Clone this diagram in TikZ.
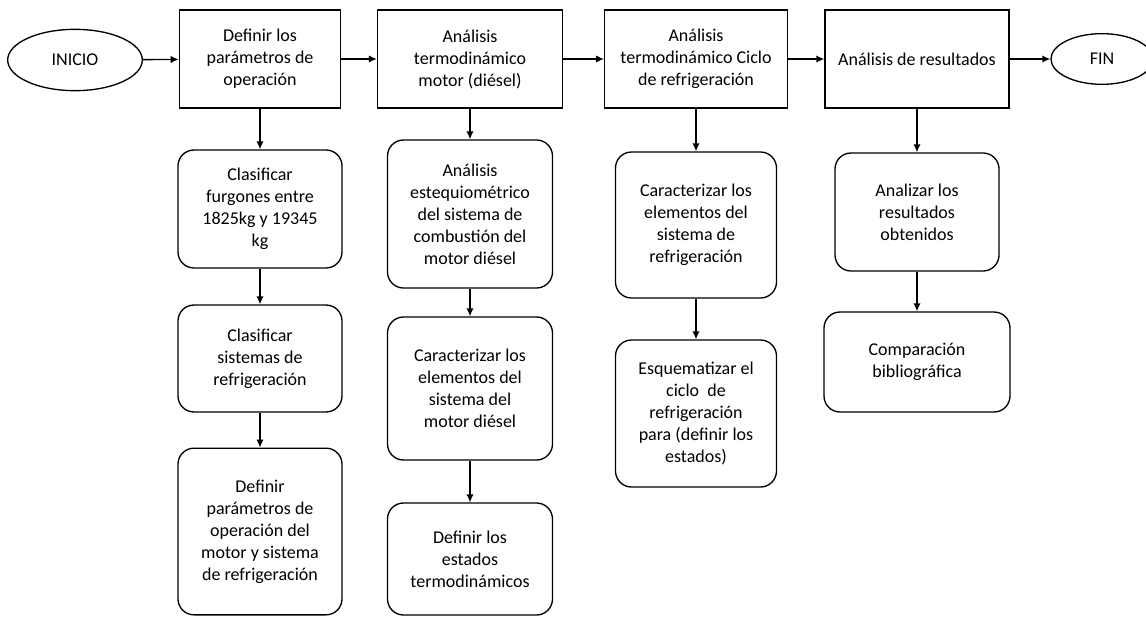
\documentclass[tikz,border=0pt]{standalone}
\usepackage{fontspec}
\setmainfont{Carlito}
\usetikzlibrary{arrows.meta,shapes.geometric}
\tikzset{
  base/.style={draw=black, line width=1pt, align=center, inner sep=2pt,
    font=\fontsize{13.5pt}{16.5pt}\selectfont},
  topbox/.style={base, rectangle, minimum height=73.5pt},
  subbox/.style={base, rectangle, rounded corners=12pt},
  term/.style={base, ellipse},
  conn/.style={line width=1pt, -{Latex[length=6pt,width=5.5pt]}}
}
\begin{document}
\begin{tikzpicture}[x=0.75pt,y=-0.75pt]
\useasboundingbox (0,0) rectangle (1146,618);
\fill[white] (0,0) rectangle (1146,618);
\begin{scope}
\clip (0,0) rectangle (1146,618);
% top row
\node[term, minimum width=101pt, minimum height=46pt] (ini) at (75,60) {INICIO};
\node[topbox, minimum width=121pt] (b1) at (260,59) {Definir los\\par\'ametros de\\operaci\'on};
\node[topbox, minimum width=138.75pt] (b2) at (470,59) {An\'alisis\\termodin\'amico\\motor (di\'esel)};
\node[topbox, minimum width=137pt] (b3) at (696,59) {An\'alisis\\termodin\'amico Ciclo\\de refrigeraci\'on};
\node[topbox, minimum width=138pt] (b4) at (917,59) {An\'alisis de resultados};
\node[term, minimum width=76.5pt, minimum height=38pt] (fin) at (1102,59) {FIN};
% column 1
\node[subbox, minimum width=123pt, minimum height=88.5pt] (a1) at (260,209) {Clasificar\\furgones entre\\1825kg y 19345\\kg};
\node[subbox, minimum width=123pt, minimum height=80.25pt] (a2) at (260,358.5) {Clasificar\\sistemas de\\refrigeraci\'on};
\node[subbox, minimum width=123pt, minimum height=125pt] (a3) at (260,531.5) {Definir\\par\'ametros de\\operaci\'on del\\motor y sistema\\de refrigeraci\'on};
% column 2
\node[subbox, minimum width=123.75pt, minimum height=111pt] (c1) at (470,214) {An\'alisis\\estequiom\'etrico\\del sistema de\\combusti\'on del\\motor di\'esel};
\node[subbox, minimum width=123.75pt, minimum height=107.25pt] (c2) at (470,388.5) {Caracterizar los\\elementos del\\sistema del\\motor di\'esel};
\node[subbox, minimum width=123.75pt, minimum height=84pt] (c3) at (470,559) {Definir los\\estados\\termodin\'amicos};
% column 3
\node[subbox, minimum width=120.75pt, minimum height=109.5pt] (d1) at (696,225) {Caracterizar los\\elementos del\\sistema de\\refrigeraci\'on};
\node[subbox, minimum width=120.75pt, minimum height=110.25pt] (d2) at (696,413.5) {Esquematizar el\\ciclo~ de\\refrigeraci\'on\\para (definir los\\estados)};
% column 4
\node[subbox, minimum width=123pt, minimum height=88.5pt] (e1) at (917,212) {Analizar los\\resultados\\obtenidos};
\node[subbox, minimum width=139.5pt, minimum height=75pt] (e2) at (917,362) {Comparaci\'on\\bibliogr\'afica};
% connectors
\draw[conn] (ini) -- (b1);
\draw[conn] (b1) -- (b2);
\draw[conn] (b2) -- (b3);
\draw[conn] (b3) -- (b4);
\draw[conn] (b4) -- (fin);
\draw[conn] (b1) -- (a1);
\draw[conn] (a1) -- (a2);
\draw[conn] (a2) -- (a3);
\draw[conn] (b2) -- (c1);
\draw[conn] (c1) -- (c2);
\draw[conn] (c2) -- (c3);
\draw[conn] (b3) -- (d1);
\draw[conn] (d1) -- (d2);
\draw[conn] (b4) -- (e1);
\draw[conn] (e1) -- (e2);
\end{scope}
\end{tikzpicture}
\end{document}
